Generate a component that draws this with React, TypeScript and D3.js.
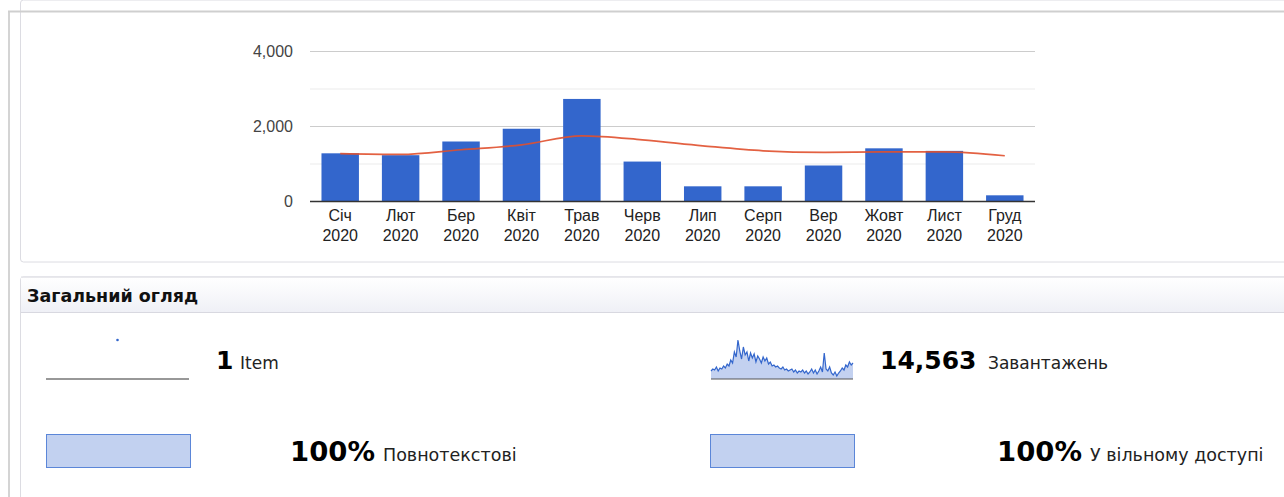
import React from 'react';
import * as d3 from 'd3';

// monthly downloads, 2020
const months = ['Січ', 'Лют', 'Бер', 'Квіт', 'Трав', 'Черв', 'Лип', 'Серп', 'Вер', 'Жовт', 'Лист', 'Груд'];
const yearLabel = '2020';
const downloads = [1285, 1235, 1600, 1940, 2735, 1065, 405, 405, 960, 1418, 1350, 165];
const trend = [1275, 1255, 1380, 1510, 1750, 1645, 1485, 1352, 1310, 1325, 1322, 1220];
const yTicks = [0, 1000, 2000, 3000, 4000];
const yLabelTicks = [0, 2000, 4000];

// daily downloads sparkline (rough reading)
const daily = [8, 10, 9, 12, 8, 11, 10, 13, 11, 15, 13, 19, 16, 27, 22, 39, 28, 20, 32, 24,
  27, 18, 26, 21, 25, 17, 23, 20, 16, 22, 18, 21, 15, 17, 13, 14, 12, 13, 11, 10,
  12, 9, 10, 8, 9, 10, 7, 9, 6, 8, 7, 9, 6, 8, 5, 7, 10, 6, 9, 5,
  8, 12, 7, 26, 10, 8, 12, 6, 4, 7, 3, 6, 8, 11, 9, 14, 12, 17, 14, 16];
const items = [1];

const totalItems = '1';
const totalDownloads = '14,563';
const fullTextPct = 100;
const openAccessPct = 100;

const W = 1284;
const H = 497;

const axisFont = '"Liberation Sans", Arial, sans-serif';
const panelFont = '"DejaVu Sans", Verdana, sans-serif';

const App = () => {
  const x = d3.scaleBand<string>().domain(months).range([310, 1035]).paddingInner(0.38).paddingOuter(0.19);
  const y = d3.scaleLinear().domain([0, 4000]).range([201.5, 51.5]);
  const cx = (m: string) => (x(m) || 0) + x.bandwidth() / 2;

  const trendLine = d3.line<number>()
    .x((_d, i) => cx(months[i]))
    .y((d) => y(d))
    .curve(d3.curveMonotoneX);

  const sx = d3.scaleLinear().domain([0, daily.length - 1]).range([711, 853]);
  const sy = d3.scaleLinear().domain([0, d3.max(daily) || 1]).range([379, 340]);
  const sparkArea = d3.area<number>().x((_d, i) => sx(i)).y0(379).y1((d) => sy(d));
  const sparkLine = d3.line<number>().x((_d, i) => sx(i)).y((d) => sy(d));

  const ix = d3.scalePoint<number>().domain(items.map((_d, i) => i)).range([46, 189]).padding(0.5);
  const iy = d3.scaleLinear().domain([0, 1]).range([379, 340]);

  const pctLeft = d3.scaleLinear().domain([0, 100]).range([0, 144]);

  return (
    <svg width={W} height={H} style={{ position: 'absolute', left: 0, top: 0, display: 'block', background: '#fff' }}>
      <defs>
        <linearGradient id="hdr" x1="0" y1="0" x2="0" y2="1">
          <stop offset="0" stopColor="#ffffff" />
          <stop offset="1" stopColor="#eff0f6" />
        </linearGradient>
      </defs>

      {/* outer frame */}
      <line x1={9} x2={9} y1={11} y2={H} stroke="#d4d4d4" strokeWidth={2} />

      {/* chart panel */}
      <rect x={20.5} y={0} width={1300} height={262} rx={3} fill="#fff" stroke="#dcdce2" />
      <line x1={8} x2={W} y1={11.5} y2={11.5} stroke="#cfcfcf" strokeWidth={2} />

      {/* gridlines */}
      {yTicks.map((t) => (
        <line key={t} x1={310} x2={1035} y1={y(t)} y2={y(t)}
          stroke={t % 2000 === 0 ? '#cccccc' : '#ebebeb'} strokeWidth={1} />
      ))}
      {yLabelTicks.map((t) => (
        <text key={t} x={293} y={y(t)} dy="0.36em" textAnchor="end" fontFamily={axisFont} fontSize={16} fill="#444">
          {d3.format(',')(t)}
        </text>
      ))}

      {/* bars */}
      {downloads.map((v, i) => (
        <rect key={months[i]} x={x(months[i])} y={y(v)} width={x.bandwidth()} height={y(0) - y(v)} fill="#3366cc" />
      ))}
      <line x1={310} x2={1035} y1={y(0)} y2={y(0)} stroke="#333" strokeWidth={1.5} />

      {/* trend */}
      <path d={trendLine(trend) || ''} fill="none" stroke="#e0502e" strokeWidth={1.7} strokeOpacity={0.9} />

      {months.map((m) => (
        <text key={m} x={cx(m)} y={221} textAnchor="middle" fontFamily={axisFont} fontSize={16} fill="#222">
          <tspan x={cx(m)}>{m}</tspan>
          <tspan x={cx(m)} y={241}>{yearLabel}</tspan>
        </text>
      ))}

      {/* overview panel */}
      <rect x={20.5} y={277} width={1300} height={300} rx={3} fill="#fff" stroke="#dcdce2" />
      <rect x={21} y={277.5} width={1300} height={35} fill="url(#hdr)" />
      <line x1={21} x2={W} y1={277} y2={277} stroke="#dcdce2" />
      <line x1={21} x2={W} y1={312.5} y2={312.5} stroke="#d8d8e0" />
      <text x={27} y={302} fontFamily={panelFont} fontWeight="bold" fontSize={17.5} fill="#111">Загальний огляд</text>

      {/* items sparkline */}
      <line x1={46} x2={189} y1={379} y2={379} stroke="#333" strokeWidth={1.2} />
      {items.map((v, i) => (
        <circle key={i} cx={ix(i)} cy={iy(v)} r={1.3} fill="#3366cc" />
      ))}
      <text x={216} y={369} fontFamily={panelFont} fill="#000">
        <tspan fontWeight="bold" fontSize={25}>{totalItems}</tspan>
        <tspan x={240} fontSize={17} fill="#222">Item</tspan>
      </text>

      {/* downloads sparkline */}
      <path d={sparkArea(daily) || ''} fill="#c3d1f0" />
      <path d={sparkLine(daily) || ''} fill="none" stroke="#3366cc" strokeWidth={1.2} />
      <line x1={711} x2={853} y1={379} y2={379} stroke="#555" strokeWidth={1.2} />
      <text x={880} y={369} fontFamily={panelFont} fill="#000">
        <tspan fontWeight="bold" fontSize={25}>{totalDownloads}</tspan>
        <tspan x={988} fontSize={17} fill="#222">Завантажень</tspan>
      </text>

      {/* full text */}
      <rect x={46.5} y={434.5} width={pctLeft(fullTextPct)} height={33} fill="#c2d1f0" stroke="#5b86d8" />
      <text x={290} y={461} fontFamily={panelFont} fill="#000">
        <tspan fontWeight="bold" fontSize={26} textLength={85} lengthAdjust="spacingAndGlyphs">{fullTextPct}%</tspan>
        <tspan x={383} fontSize={17.5} fill="#222">Повнотекстові</tspan>
      </text>

      {/* open access */}
      <rect x={710.5} y={434.5} width={pctLeft(openAccessPct)} height={33} fill="#c2d1f0" stroke="#5b86d8" />
      <text x={997} y={461} fontFamily={panelFont} fill="#000">
        <tspan fontWeight="bold" fontSize={26} textLength={85} lengthAdjust="spacingAndGlyphs">{openAccessPct}%</tspan>
        <tspan x={1090} fontSize={17.5} fill="#222">У вільному доступі</tspan>
      </text>
    </svg>
  );
};

export default App;
